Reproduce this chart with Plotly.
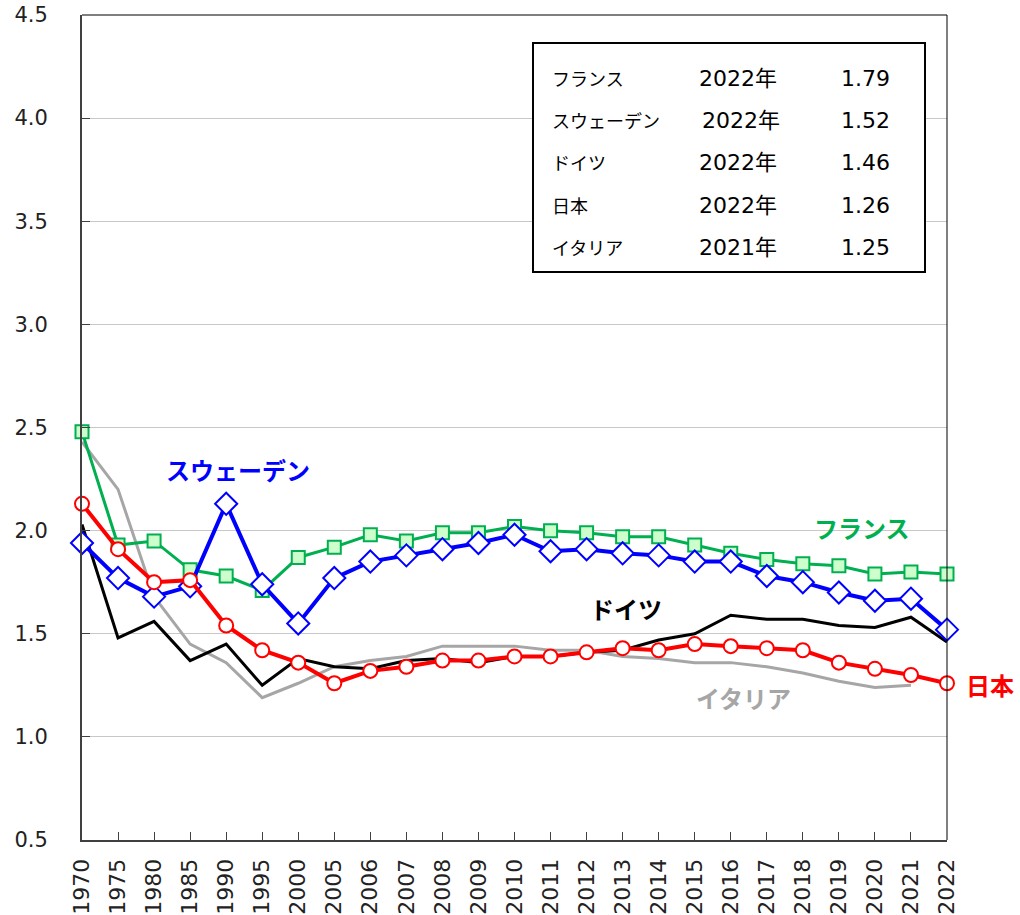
import plotly.graph_objects as go

years = ["1970", "1975", "1980", "1985", "1990", "1995", "2000", "2005", "2006", "2007",
         "2008", "2009", "2010", "2011", "2012", "2013", "2014", "2015", "2016", "2017",
         "2018", "2019", "2020", "2021", "2022"]

japan = [2.13, 1.91, 1.75, 1.76, 1.54, 1.42, 1.36, 1.26, 1.32, 1.34, 1.37, 1.37, 1.39,
         1.39, 1.41, 1.43, 1.42, 1.45, 1.44, 1.43, 1.42, 1.36, 1.33, 1.30, 1.26]
france = [2.48, 1.93, 1.95, 1.81, 1.78, 1.71, 1.87, 1.92, 1.98, 1.95, 1.99, 1.99, 2.02,
          2.00, 1.99, 1.97, 1.97, 1.93, 1.89, 1.86, 1.84, 1.83, 1.79, 1.80, 1.79]
sweden = [1.94, 1.77, 1.68, 1.73, 2.13, 1.74, 1.55, 1.77, 1.85, 1.88, 1.91, 1.94, 1.98,
          1.90, 1.91, 1.89, 1.88, 1.85, 1.85, 1.78, 1.75, 1.70, 1.66, 1.67, 1.52]
germany = [2.03, 1.48, 1.56, 1.37, 1.45, 1.25, 1.38, 1.34, 1.33, 1.37, 1.38, 1.36, 1.39,
           1.39, 1.41, 1.42, 1.47, 1.50, 1.59, 1.57, 1.57, 1.54, 1.53, 1.58, 1.46]
italy = [2.43, 2.20, 1.68, 1.45, 1.36, 1.19, 1.26, 1.34, 1.37, 1.39, 1.44, 1.44, 1.44,
         1.42, 1.42, 1.39, 1.38, 1.36, 1.36, 1.34, 1.31, 1.27, 1.24, 1.25, None]

y_ticks = [0.5, 1.0, 1.5, 2.0, 2.5, 3.0, 3.5, 4.0, 4.5]
y_tick_labels = ["0.5", "1.0", "1.5", "2.0", "2.5", "3.0", "3.5", "4.0", "4.5"]

table_names = ["フランス", "スウェーデン", "ドイツ", "日本", "イタリア"]
table_years = ["2022年", "2022年", "2022年", "2022年", "2021年"]
table_values = ["1.79", "1.52", "1.46", "1.26", "1.25"]

JP = "Noto Sans CJK JP"
NUM = "DejaVu Sans, Noto Sans CJK JP"

fig = go.Figure()

fig.add_trace(go.Scatter(x=years, y=italy, mode="lines", name="イタリア",
                         line=dict(color="#A6A6A6", width=3), cliponaxis=False))
fig.add_trace(go.Scatter(x=years, y=germany, mode="lines", name="ドイツ",
                         line=dict(color="#000000", width=3), cliponaxis=False))
fig.add_trace(go.Scatter(x=years, y=france, mode="lines+markers", name="フランス",
                         line=dict(color="#00B050", width=3),
                         marker=dict(symbol="square", size=13, color="#CCFFCC",
                                     line=dict(color="#00B050", width=2)),
                         cliponaxis=False))
fig.add_trace(go.Scatter(x=years, y=sweden, mode="lines+markers", name="スウェーデン",
                         line=dict(color="#0000FF", width=4),
                         marker=dict(symbol="diamond", size=17, color="#FFFFFF",
                                     line=dict(color="#0000FF", width=2)),
                         cliponaxis=False))
fig.add_trace(go.Scatter(x=years, y=japan, mode="lines+markers", name="日本",
                         line=dict(color="#FF0000", width=4),
                         marker=dict(symbol="circle", size=14, color="#FFFFFF",
                                     line=dict(color="#FF0000", width=2)),
                         cliponaxis=False))

# body margin is removed by the post script, so the figure fills the page
W, H = 1020, 915
L, R, T, B = 82, 1020 - 947, 15, 915 - 840
PW = W - L - R
PH = H - T - B


def px(xp):
    return (xp - L) / PW


def py(yp):
    return (H - B - yp) / PH


# series labels
labels = [("スウェーデン", 238, 469, "#0000FF"),
          ("フランス", 862, 527, "#00B050"),
          ("ドイツ", 626, 608, "#000000"),
          ("イタリア", 743, 697, "#A6A6A6"),
          ("日本", 990, 684, "#FF0000")]
for txt, xx, yy, col in labels:
    fig.add_annotation(x=px(xx), y=py(yy), xref="paper", yref="paper", text=txt,
                       showarrow=False, xanchor="center", yanchor="middle",
                       font=dict(family=JP, size=24, color=col, weight="bold"))

# table box
fig.add_shape(type="rect", xref="paper", yref="paper",
              x0=px(533), x1=px(925), y0=py(272), y1=py(43),
              line=dict(color="#000000", width=2), fillcolor="#FFFFFF", layer="above")
row_y = [78, 120, 162, 205, 247]
for i in range(len(table_names)):
    yy = py(row_y[i])
    fig.add_annotation(x=px(550), y=yy, xref="paper", yref="paper", text=table_names[i],
                       showarrow=False, xanchor="left", yanchor="middle",
                       font=dict(family=JP, size=18, color="#000000"))
    fig.add_annotation(x=px(700 if i == 1 else 697), y=yy, xref="paper", yref="paper",
                       text=table_years[i], showarrow=False, xanchor="left", yanchor="middle",
                       font=dict(family=NUM, size=22, color="#000000"))
    fig.add_annotation(x=px(892), y=yy, xref="paper", yref="paper", text=table_values[i],
                       showarrow=False, xanchor="right", yanchor="middle",
                       font=dict(family=NUM, size=22, color="#000000"))

# top and right border
fig.add_shape(type="line", xref="paper", yref="paper", x0=0, x1=1, y0=1, y1=1,
              line=dict(color="#000000", width=1))
fig.add_shape(type="line", xref="paper", yref="paper", x0=1, x1=1, y0=0, y1=1,
              line=dict(color="#000000", width=1))

fig.update_layout(
    width=W, height=H,
    margin=dict(l=L, r=R, t=T, b=B, pad=0, autoexpand=False),
    paper_bgcolor="#FFFFFF", plot_bgcolor="#FFFFFF",
    showlegend=False, hovermode=False,
    font=dict(family="DejaVu Sans", color="#222222"),
)
fig.update_xaxes(
    type="category", range=[0, len(years) - 1], automargin=False,
    showgrid=False, showline=True, linecolor="#404040", linewidth=2,
    ticks="inside", ticklen=8, tickcolor="#404040", tickwidth=1,
    tickangle=-90, tickfont=dict(family="DejaVu Sans", size=22, color="#222222"),
    ticklabelstandoff=8, ticklabeloverflow="allow", zeroline=False,
)
fig.update_yaxes(
    range=[0.5, 4.5], tickvals=y_ticks, ticktext=y_tick_labels, automargin=False,
    showgrid=True, gridcolor="#C8C8C8", gridwidth=1,
    showline=True, linecolor="#404040", linewidth=2,
    ticks="inside", ticklen=8, tickcolor="#404040", tickwidth=1,
    tickfont=dict(family="DejaVu Sans", size=21, color="#222222"),
    ticklabelstandoff=28, ticklabeloverflow="allow", zeroline=False,
)

fig.write_html("out.html", config={"displayModeBar": False},
               post_script="document.body.style.margin='0';document.body.style.overflow='hidden';")
